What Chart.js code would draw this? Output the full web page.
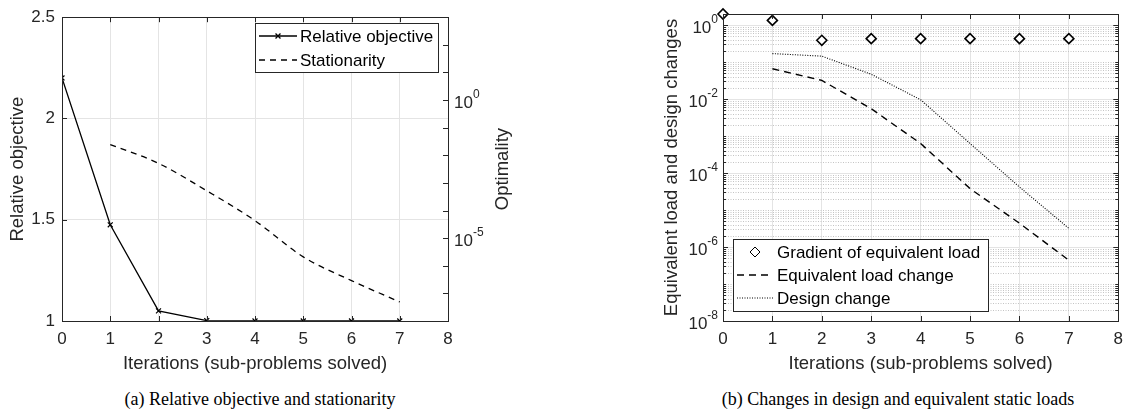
<!DOCTYPE html>
<html>
<head>
<meta charset="utf-8">
<script src="https://cdn.jsdelivr.net/npm/chart.js@4.4.1/dist/chart.umd.min.js"></script>
<style>
  html, body { margin: 0; padding: 0; background: #fff; }
  body { width: 1131px; height: 414px; position: relative; overflow: hidden; }
  .panel { position: absolute; top: 0; height: 380px; }
  #left { left: 0; width: 560px; }
  #right { left: 640px; width: 491px; }
  .caption {
    position: absolute; top: 389px; transform: translateX(-50%); white-space: nowrap;
    font-family: "Liberation Serif", "Times New Roman", serif; font-size: 18px; color: #000;
  }
</style>
</head>
<body>
<div class="panel" id="left"><canvas id="chartA"></canvas></div>
<div class="panel" id="right"><canvas id="chartB"></canvas></div>
<div class="caption" style="left:260px">(a) Relative objective and stationarity</div>
<div class="caption" style="left:898px">(b) Changes in design and equivalent static loads</div>
<script>
// values
const iterations = [0, 1, 2, 3, 4, 5, 6, 7];
const relativeObjective = [2.2, 1.475, 1.05, 1.002, 1.0, 1.0, 1.0, 1.0];
const stationarity = [null, 2.45e-2, 5.1e-3, 5.2e-4, 4.3e-5, 2.1e-6, 2.9e-7, 4.9e-8];
const gradientEqLoad = [2.0, 1.34, 0.39, 0.43, 0.43, 0.43, 0.43, 0.43];
const eqLoadChange = [null, 6.6e-2, 3.2e-2, 5.5e-3, 6.3e-4, 3.8e-5, 4.4e-6, 4.4e-7];
const designChange = [null, 0.17, 0.145, 4.7e-2, 9.6e-3, 6.3e-4, 4.2e-5, 3.2e-6];

// ticks
const xTicks = [0, 1, 2, 3, 4, 5, 6, 7, 8];
const objectiveTicks = [1, 1.5, 2, 2.5];
const optimalityDecades = [-8, -7, -6, -5, -4, -3, -2, -1, 0, 1, 2, 3];
const optimalityLabelExps = [0, -5];
const changeDecades = [-8, -7, -6, -5, -4, -3, -2, -1, 0];
const changeLabelExps = [0, -2, -4, -6, -8];

const FONT = '"Liberation Sans", Arial, Helvetica, sans-serif';
const AXIS = '#262626';
const GRID = '#e4e4e4';
Chart.defaults.font.family = FONT;
Chart.defaults.color = AXIS;

const pts = ys => iterations.map((x, i) => ({ x, y: ys[i] })).filter(p => p.y != null);

function seg(ctx, x1, y1, x2, y2) {
  ctx.beginPath(); ctx.moveTo(x1, y1); ctx.lineTo(x2, y2); ctx.stroke();
}

// "10" with a raised exponent, like MATLAB tick labels
function drawPow(ctx, exp, x, y, align) {
  const base = '10', sup = String(exp);
  ctx.font = '17px ' + FONT;
  const wb = ctx.measureText(base).width;
  ctx.font = '12px ' + FONT;
  const ws = ctx.measureText(sup).width;
  const x0 = align === 'right' ? x - wb - ws : x;
  ctx.fillStyle = AXIS;
  ctx.textAlign = 'left';
  ctx.textBaseline = 'middle';
  ctx.font = '17px ' + FONT;
  ctx.fillText(base, x0, y + 3);
  ctx.font = '12px ' + FONT;
  ctx.fillText(sup, x0 + wb, y - 5);
}

// MATLAB-like box with inward ticks
function drawBox(chart, yLeft, yRight) {
  const { ctx, chartArea: a, scales } = chart;
  ctx.save();
  ctx.strokeStyle = AXIS;
  ctx.lineWidth = 1;
  ctx.setLineDash([]);
  ctx.strokeRect(Math.round(a.left) + 0.5, Math.round(a.top) + 0.5,
    Math.round(a.right - a.left), Math.round(a.bottom - a.top));
  scales.x.ticks.forEach(t => {
    const px = Math.round(scales.x.getPixelForValue(t.value)) + 0.5;
    seg(ctx, px, a.bottom, px, a.bottom - 5);
    seg(ctx, px, a.top, px, a.top + 5);
  });
  [[yLeft, a.left, 1], [yRight, a.right, -1]].forEach(([s, edge, dir]) => {
    if (!s) return;
    s.ticks.forEach(t => {
      const py = Math.round(s.getPixelForValue(t.value)) + 0.5;
      const len = t.minor ? 3 : 5;
      seg(ctx, edge, py, edge + dir * len, py);
    });
  });
  ctx.restore();
}

function drawLegend(chart, box, rows, sample, textX) {
  const ctx = chart.ctx;
  ctx.save();
  ctx.fillStyle = '#fff';
  ctx.fillRect(box[0], box[1], box[2] - box[0], box[3] - box[1]);
  ctx.strokeStyle = AXIS;
  ctx.lineWidth = 1;
  ctx.strokeRect(box[0] + 0.5, box[1] + 0.5, box[2] - box[0], box[3] - box[1]);
  chart.data.datasets.forEach((ds, i) => {
    const y = rows[i];
    ctx.strokeStyle = '#000';
    if (ds.showLine !== false) {
      ctx.lineWidth = ds.borderWidth;
      ctx.setLineDash(ds.borderDash || []);
      seg(ctx, sample[0], y, sample[1], y);
      ctx.setLineDash([]);
    }
    if (ds.pointRadius > 0) {
      ctx.fillStyle = ds.pointBackgroundColor || '#000';
      Chart.helpers.drawPoint(ctx, {
        pointStyle: ds.pointStyle, radius: ds.pointRadius,
        borderWidth: ds.pointBorderWidth, rotation: 0
      }, (sample[0] + sample[1]) / 2, y);
    }
    ctx.fillStyle = '#000';
    ctx.font = '17px ' + FONT;
    ctx.textAlign = 'left';
    ctx.textBaseline = 'middle';
    ctx.fillText(ds.label, textX, y + 1);
  });
  ctx.restore();
}

// ---------- (a) relative objective and stationarity ----------
new Chart(document.getElementById('chartA'), {
  type: 'line',
  data: {
    datasets: [
      {
        label: 'Relative objective', data: pts(relativeObjective), yAxisID: 'y',
        borderColor: '#000', borderWidth: 1.3, tension: 0,
        pointStyle: 'crossRot', pointRadius: 3.5, pointBorderColor: '#000', pointBorderWidth: 1.2
      },
      {
        label: 'Stationarity', data: pts(stationarity), yAxisID: 'y1',
        borderColor: '#000', borderWidth: 1.3, borderDash: [6, 5],
        pointRadius: 0, cubicInterpolationMode: 'monotone'
      }
    ]
  },
  options: {
    animation: false, responsive: true, maintainAspectRatio: false, devicePixelRatio: 1,
    layout: { padding: { top: 15, left: 0, right: 0, bottom: 0 } },
    plugins: { legend: { display: false }, tooltip: { enabled: false } },
    scales: {
      x: {
        type: 'linear', min: 0, max: 8,
        afterBuildTicks: s => { s.ticks = xTicks.map(v => ({ value: v })); },
        afterFit: s => { s.height = 59; },
        grid: { color: GRID, drawTicks: false },
        border: { display: false },
        ticks: { padding: 8, font: { size: 17 }, color: AXIS },
        title: { display: true, text: 'Iterations (sub-problems solved)', font: { size: 18.5 }, padding: { top: 0, bottom: 5 } }
      },
      y: {
        position: 'left', min: 1, max: 2.5,
        afterBuildTicks: s => { s.ticks = objectiveTicks.map(v => ({ value: v })); },
        afterFit: s => { s.width = 62; },
        grid: { color: GRID, drawTicks: false },
        border: { display: false },
        ticks: { padding: 7, font: { size: 17 }, color: AXIS, callback: v => String(v) },
        title: { display: true, text: 'Relative objective', font: { size: 18.5 }, padding: { top: 7, bottom: 0 } }
      },
      y1: {
        type: 'logarithmic', position: 'right', min: 1e-8, max: 1e3,
        afterBuildTicks: s => { s.ticks = optimalityDecades.map(e => ({ value: Math.pow(10, e) })); },
        afterFit: s => { s.width = 112; },
        grid: { drawOnChartArea: false, drawTicks: false },
        border: { display: false },
        ticks: { display: false },
        title: { display: false, text: 'Optimality' }
      }
    }
  },
  plugins: [{
    id: 'matlabA',
    afterDraw(chart) {
      drawBox(chart, chart.scales.y, chart.scales.y1);
      const s = chart.scales.y1, ctx = chart.ctx, a = chart.chartArea;
      ctx.save();
      optimalityLabelExps.forEach(e => drawPow(ctx, e, a.right + 6, s.getPixelForValue(Math.pow(10, e)), 'left'));
      // right axis title, reading bottom to top as in MATLAB
      ctx.translate(a.right + 55, (a.top + a.bottom) / 2);
      ctx.rotate(-Math.PI / 2);
      ctx.fillStyle = AXIS;
      ctx.font = '18.5px ' + FONT;
      ctx.textAlign = 'center';
      ctx.textBaseline = 'middle';
      ctx.fillText(s.options.title.text, 0, 0);
      ctx.restore();
      drawLegend(chart, [255, 23, 438, 72], [36, 60], [259, 297], 300);
    }
  }]
});

// ---------- (b) design and equivalent load changes ----------
const changeTicks = [];
changeDecades.forEach(e => {
  for (let m = 1; m <= 9; m++) {
    const v = m * Math.pow(10, e);
    if (v <= 2) changeTicks.push({ value: v, minor: !(m === 1 && changeLabelExps.includes(e)) });
  }
});

new Chart(document.getElementById('chartB'), {
  type: 'line',
  data: {
    datasets: [
      {
        label: 'Gradient of equivalent load', data: pts(gradientEqLoad),
        showLine: false, borderColor: '#000', borderWidth: 1.5,
        pointStyle: 'rectRot', pointRadius: 5, pointBorderColor: '#000', pointBorderWidth: 1.6,
        pointBackgroundColor: '#fff', clip: false
      },
      {
        label: 'Equivalent load change', data: pts(eqLoadChange),
        borderColor: '#000', borderWidth: 1.4, borderDash: [7, 5], pointRadius: 0
      },
      {
        label: 'Design change', data: pts(designChange),
        borderColor: '#000', borderWidth: 1.1, borderDash: [1, 1.5], pointRadius: 0
      }
    ]
  },
  options: {
    animation: false, responsive: true, maintainAspectRatio: false, devicePixelRatio: 1,
    layout: { padding: { top: 14, left: 0, right: 5, bottom: 0 } },
    plugins: { legend: { display: false }, tooltip: { enabled: false } },
    scales: {
      x: {
        type: 'linear', min: 0, max: 8,
        afterBuildTicks: s => { s.ticks = xTicks.map(v => ({ value: v })); },
        afterFit: s => { s.height = 59; },
        grid: { color: GRID, drawTicks: false },
        border: { display: false },
        ticks: { padding: 8, font: { size: 17 }, color: AXIS },
        title: { display: true, text: 'Iterations (sub-problems solved)', font: { size: 18.5 }, padding: { top: 0, bottom: 5 } }
      },
      y: {
        type: 'logarithmic', position: 'left', min: 1e-8, max: 2,
        afterBuildTicks: s => { s.ticks = changeTicks.map(t => ({ value: t.value, minor: t.minor })); },
        afterFit: s => { s.width = 83; },
        grid: {
          drawTicks: false,
          color: c => (c.tick && !c.tick.minor ? GRID : 'rgba(0,0,0,0)')
        },
        border: { display: false },
        ticks: { display: false },
        title: { display: true, text: 'Equivalent load and design changes', font: { size: 18.5 }, padding: { top: 21, bottom: 0 } }
      }
    }
  },
  plugins: [{
    id: 'matlabB',
    beforeDatasetsDraw(chart) {
      const { ctx, chartArea: a, scales } = chart;
      ctx.save();
      ctx.strokeStyle = '#c4c4c4';
      ctx.lineWidth = 1;
      ctx.setLineDash([1, 1.5]);
      scales.y.ticks.forEach(t => {
        if (!t.minor) return;
        const py = Math.round(scales.y.getPixelForValue(t.value)) + 0.5;
        seg(ctx, a.left, py, a.right, py);
      });
      ctx.restore();
    },
    afterDraw(chart) {
      drawBox(chart, chart.scales.y, chart.scales.y);
      const s = chart.scales.y, ctx = chart.ctx;
      ctx.save();
      changeLabelExps.forEach(e => drawPow(ctx, e, chart.chartArea.left - 5, s.getPixelForValue(Math.pow(10, e)), 'right'));
      ctx.restore();
      drawLegend(chart, [93, 239, 348, 311], [252, 275, 298], [97, 133], 137);
    }
  }]
});
</script>
</body>
</html>
